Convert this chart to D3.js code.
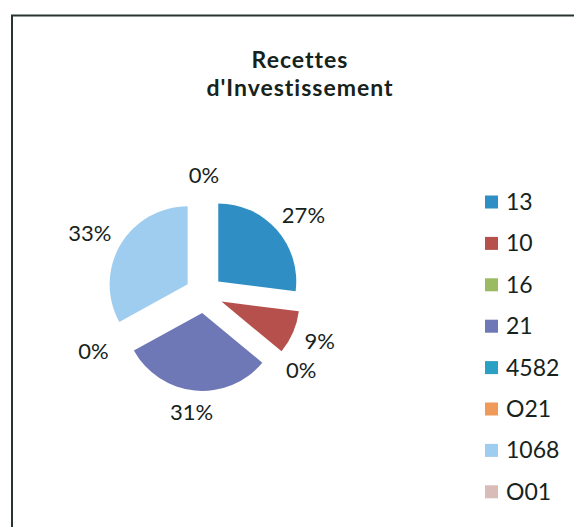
<!DOCTYPE html>
<html>
<head>
<meta charset="utf-8">
<script src="https://cdn.jsdelivr.net/npm/d3@7"></script>
<style>
  body { margin: 0; background: #fff; }
  text { font-family: Lato, "Open Sans", sans-serif; fill: #16231c; }
</style>
</head>
<body>
<div id="chart"></div>
<script>
// chart data
var categories = ["13", "10", "16", "21", "4582", "O21", "1068", "O01"];
var values = [27, 9, 0, 31, 0, 0, 33, 0];
var colors = ["#2f8fc4", "#b5504d", "#9bbb63", "#6f78b6", "#2aa0c4", "#f09a5a", "#9fcdef", "#d7bcb8"];
var titleLines = ["Recettes", "d'Investissement"];

var width = 574, height = 527;
var cx = 204, cy = 294;
var radius = 78;
var explode = 19;
var labelRadius = 111;

var pieData = categories.map(function (c, i) {
    return { name: c, val: values[i], color: colors[i] };
});

var svg = d3.select('#chart')
  .append('svg')
  .attr('width', width)
  .attr('height', height);

svg.append('rect')
  .attr('width', width)
  .attr('height', height)
  .attr('fill', '#fff');

// frame (only top and left edges are inside the scan)
svg.append('path')
  .attr('d', 'M12,527 L12,15.5 L574,15.5')
  .attr('fill', 'none')
  .attr('stroke', '#27352f')
  .attr('stroke-width', 2);

svg.selectAll('.title')
  .data(titleLines)
  .enter()
  .append('text')
  .attr('class', 'title')
  .attr('x', 300)
  .attr('y', function (d, i) { return 68 + i * 27.8; })
  .attr('text-anchor', 'middle')
  .style('font-weight', 'bold')
  .style('font-size', '23px')
  .style('letter-spacing', '1px')
  .text(function (d) { return d; });

var pie = d3.pie()
  .value(function (d) { return d.val; })
  .sort(null);

var arc = d3.arc()
  .innerRadius(0)
  .outerRadius(radius);

var arcs = pie(pieData);
var total = d3.sum(values);

var g = svg.append('g')
  .attr('transform', 'translate(' + cx + ',' + cy + ')');

g.selectAll('path')
  .data(arcs)
  .enter()
  .append('path')
  .attr('d', arc)
  .attr('fill', function (d) { return d.data.color; })
  .attr('transform', function (d) {
      var ang = (d.startAngle + d.endAngle) / 2;
      return 'translate(' + (Math.sin(ang) * explode) + ',' + (-Math.cos(ang) * explode) + ')';
  });

// labels sit outside the end of each slice; zero slices at the same angle share one spot
var seen = {};
var labelArcs = arcs.filter(function (d) {
    var key = ((d.startAngle + d.endAngle) / 2).toFixed(4);
    if (seen[key]) return false;
    seen[key] = true;
    return true;
});

g.selectAll('.lbl')
  .data(labelArcs)
  .enter()
  .append('text')
  .attr('class', 'lbl')
  .style('font-size', '22px')
  .attr('text-anchor', 'middle')
  .text(function (d) { return Math.round(100 * d.data.val / total) + '%'; })
  .each(function (d) {
      var ang = (d.startAngle + d.endAngle) / 2;
      var box = this.getBBox();
      var x = Math.sin(ang) * (labelRadius + box.width / 2);
      var y = -Math.cos(ang) * (labelRadius + 8);
      d3.select(this)
        .attr('x', x)
        .attr('y', y)
        .attr('dy', '0.35em');
  });

var legend = svg.selectAll('.legend')
  .data(pieData)
  .enter()
  .append('g')
  .attr('class', 'legend')
  .attr('transform', function (d, i) {
      return 'translate(485,' + (202 + i * 41.4) + ')';
  });

legend.append('rect')
  .attr('x', 0)
  .attr('y', -6.5)
  .attr('width', 13)
  .attr('height', 13)
  .attr('fill', function (d) { return d.color; });

legend.append('text')
  .attr('x', 21)
  .attr('y', 0)
  .attr('dy', '0.35em')
  .style('font-size', '23px')
  .text(function (d) { return d.name; });
</script>
</body>
</html>
